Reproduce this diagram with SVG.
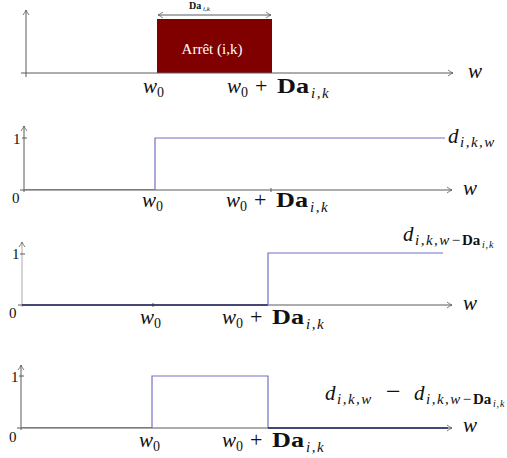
<svg xmlns="http://www.w3.org/2000/svg" xmlns:xlink="http://www.w3.org/1999/xlink" width="507" height="458" viewBox="0 0 507 458">
<style>
text{font-family:"Liberation Serif","DejaVu Serif",serif;fill:#111}
.m{font-style:italic;font-size:21px}
.s{font-size:14px}
.si{font-style:italic;font-size:15px;letter-spacing:1.5px}
.sb{font-weight:bold;font-size:15px}
.ss{font-style:italic;font-size:10px;letter-spacing:0.8px}
.r{font-size:20px}
.b{font-weight:bold;font-size:20px}
.n{font-size:15px}
.ax{stroke:#5a5a5a;stroke-width:1;fill:none}
.axl{stroke:#aaaaaa;stroke-width:1;fill:none}
.sig{stroke:#7171c6;stroke-width:1.2;fill:none}
.nav{stroke:#262664;stroke-width:1.4;fill:none}
</style>
<defs>
<marker id="ah" markerWidth="8" markerHeight="8" refX="6" refY="4" orient="auto-start-reverse" markerUnits="userSpaceOnUse">
<path d="M1,1 Q4,3.3 6,4 Q4,4.7 1,7" fill="none" stroke="#5a5a5a" stroke-width="0.8"/>
</marker>
<g id="w0">
<text class="m" x="0" y="0">w</text><text class="s" x="14" y="4">0</text>
</g>
<g id="w0da">
<text class="m" x="0" y="0">w</text><text class="s" x="14" y="4">0</text>
<text x="28" y="0" style="font-size:22px">+</text>
<text class="b" x="50" y="0" textLength="32" lengthAdjust="spacingAndGlyphs">Da</text>
<text class="si" x="84" y="5">i,k</text>
</g>
<g id="wl"><text class="m" x="0" y="0">w</text></g>
</defs>

<g id="panel1">
<g id="arret-box">
<rect x="157" y="19" width="115" height="54" fill="#800000"/>
<text x="212" y="54" text-anchor="middle" style="fill:#fff;font-size:15px">Arrêt (i,k)</text>
</g>
<g id="duration-label">
<text x="189" y="9" style="font-weight:bold;font-size:10px">Da</text>
<text x="203" y="11" style="font-style:italic;font-size:7px">i,k</text>
</g>
<g id="axes1">
<line class="ax" x1="26" y1="77" x2="26" y2="10" marker-end="url(#ah)"/>
<line class="ax" x1="21" y1="73" x2="453" y2="73" marker-end="url(#ah)"/>
<line class="ax" x1="158" y1="15" x2="271" y2="15" marker-start="url(#ah)" marker-end="url(#ah)"/>
</g>
<use xlink:href="#w0" x="143" y="93"/>
<use xlink:href="#w0da" x="227" y="93"/>
<use xlink:href="#wl" x="468" y="78"/>
</g>

<g id="panel2">
<g id="axes2">
<line class="ax" x1="24" y1="192" x2="24" y2="126" marker-end="url(#ah)"/>
<line class="ax" x1="20" y1="190" x2="452" y2="190" marker-end="url(#ah)"/>
<line class="ax" x1="22" y1="138" x2="27" y2="138"/>
<line class="ax" x1="271" y1="188" x2="271" y2="192"/>
</g>
<path class="sig" d="M24,189.5 H155 V138 H445"/>
<text class="n" x="13" y="144">1</text>
<text class="n" x="12" y="203">0</text>
<use xlink:href="#w0" x="142" y="207"/>
<use xlink:href="#w0da" x="226" y="207"/>
<use xlink:href="#wl" x="463" y="195"/>
<g id="lbl-d">
<text class="m" x="448" y="143">d</text>
<text class="si" x="460" y="147">i,k,w</text>
</g>
</g>

<g id="panel3">
<g id="axes3">
<line class="axl" x1="22" y1="307" x2="22" y2="242" marker-end="url(#ah)"/>
<line class="ax" x1="18" y1="305" x2="452" y2="305" marker-end="url(#ah)"/>
<line class="ax" x1="20" y1="254" x2="25" y2="254"/>
<line class="ax" x1="153" y1="303" x2="153" y2="307"/>
</g>
<path class="nav" d="M22,305 H268"/>
<path class="sig" d="M268,305 V253 H443"/>
<text class="n" x="12" y="259">1</text>
<text class="n" x="9" y="318">0</text>
<use xlink:href="#w0" x="140" y="324"/>
<use xlink:href="#w0da" x="222" y="324"/>
<use xlink:href="#wl" x="463" y="310"/>
<g id="lbl-dshift">
<text class="m" x="403" y="241">d</text>
<text class="si" x="415" y="245">i,k,w−</text>
<text class="sb" x="462" y="245">Da</text>
<text class="ss" x="482" y="248">i,k</text>
</g>
</g>

<g id="panel4">
<g id="axes4">
<line class="ax" x1="21" y1="430" x2="21" y2="365" marker-end="url(#ah)"/>
<line class="ax" x1="17" y1="428" x2="452" y2="428" marker-end="url(#ah)"/>
<line class="ax" x1="19" y1="376" x2="24" y2="376"/>
</g>
<path class="sig" d="M21,427.5 H152 V376 H268 V428"/>
<path class="nav" d="M268,428 H448"/>
<text class="n" x="11" y="382">1</text>
<text class="n" x="9" y="442">0</text>
<use xlink:href="#w0" x="139" y="447"/>
<use xlink:href="#w0da" x="222" y="447"/>
<use xlink:href="#wl" x="463" y="432"/>
<g id="lbl-ddiff">
<text class="m" x="325" y="400">d</text>
<text class="si" x="337" y="404">i,k,w</text>
<text x="386" y="400" style="font-size:26px">−</text>
<text class="m" x="414" y="400">d</text>
<text class="si" x="426" y="404">i,k,w−</text>
<text class="sb" x="473" y="404">Da</text>
<text class="ss" x="493" y="407">i,k</text>
</g>
</g>
</svg>
